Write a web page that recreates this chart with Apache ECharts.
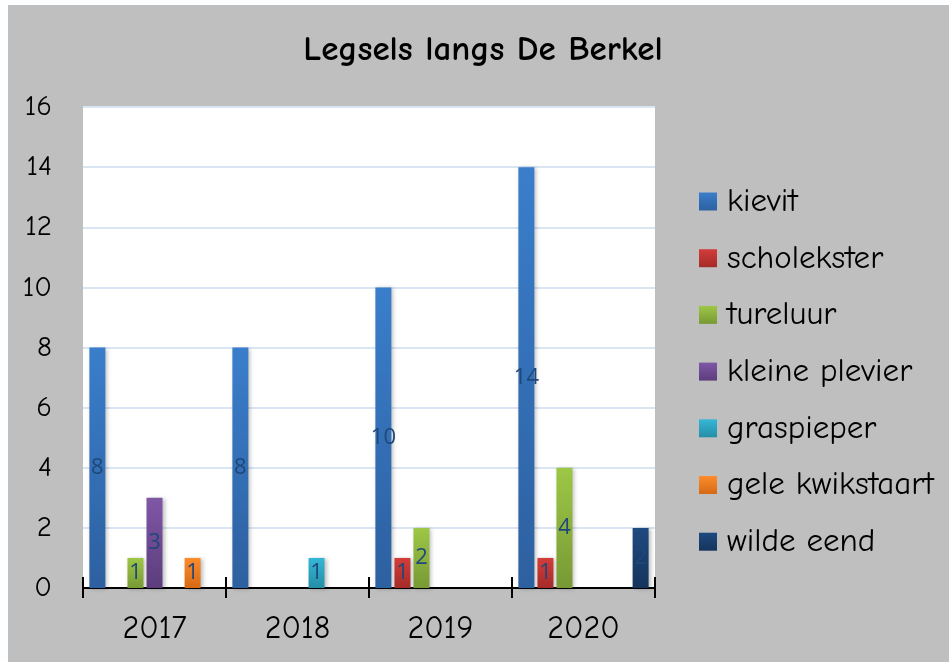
<!DOCTYPE html>
<html>
<head>
<meta charset="utf-8">
<script src="https://cdn.jsdelivr.net/npm/echarts@6/dist/echarts.min.js"></script>
<style>
html,body{margin:0;padding:0;background:#fdfeff;}
#c{width:949px;height:662px;}
</style>
</head>
<body>
<div id="c"></div>
<script>
const categories = ['2017', '2018', '2019', '2020'];
const seriesNames = ['kievit', 'scholekster', 'tureluur', 'kleine plevier', 'graspieper', 'gele kwikstaart', 'wilde eend'];
const kievit = [8, 8, 10, 14];
const scholekster = [null, null, 1, 1];
const tureluur = [1, null, 2, 4];
const kleinePlevier = [3, null, null, null];
const graspieper = [null, 1, null, null];
const geleKwikstaart = [1, null, null, null];
const wildeEend = [null, null, null, 2];
const yTicks = [0, 2, 4, 6, 8, 10, 12, 14, 16];

const values = [kievit, scholekster, tureluur, kleinePlevier, graspieper, geleKwikstaart, wildeEend];
const colors = [
  ['#3a7ecb', '#2d60a0'],
  ['#d33d3a', '#a42b29'],
  ['#9dc746', '#789935'],
  ['#7f57a6', '#5c3d7c'],
  ['#36b6d6', '#248ea7'],
  ['#fd8c2c', '#d56914'],
  ['#1f4a80', '#15345b']
];
const comic = "'Comic Sans MS', 'Comic Neue', 'DejaVu Sans', sans-serif";

const chart = echarts.init(document.getElementById('c'), null, {renderer: 'canvas'});
const series = seriesNames.map((n, i) => ({
  name: n,
  type: 'bar',
  barWidth: 16,
  barGap: '19%',
  data: values[i],
  itemStyle: {
    color: new echarts.graphic.LinearGradient(0, 0, 0, 1, [
      {offset: 0, color: colors[i][0]},
      {offset: 1, color: colors[i][1]}
    ]),
    shadowColor: 'rgba(0,0,0,0.25)',
    shadowBlur: 4,
    shadowOffsetX: 2,
    shadowOffsetY: 1
  },
  label: {
    show: true,
    position: 'inside',
    color: '#1f477a',
    fontSize: 22,
    fontFamily: "'Open Sans', 'Liberation Sans', sans-serif"
  }
}));

chart.setOption({
  backgroundColor: '#fdfeff',
  animation: false,
  graphic: [{
    type: 'rect', left: 8, top: 5, z: -10,
    shape: {width: 941, height: 657},
    style: {fill: '#bfbfbf'}
  }],
  title: {
    text: 'Legsels langs De Berkel',
    left: 478, top: 28, textAlign: 'center',
    textStyle: {fontFamily: comic, fontSize: 35, fontWeight: 'bold', color: '#000'}
  },
  legend: {
    data: seriesNames,
    orient: 'vertical',
    left: 694, top: 180,
    itemWidth: 18, itemHeight: 18, itemGap: 23.7,
    icon: 'rect',
    textStyle: {fontFamily: comic, fontSize: 33, lineHeight: 33, color: '#000', padding: [0, 0, 0, 5]}
  },
  grid: {
    left: 83, right: 294, top: 107, bottom: 74,
    show: true, backgroundColor: '#ffffff', borderWidth: 0
  },
  xAxis: [{
    type: 'category',
    data: categories,
    axisLine: {lineStyle: {color: '#000', width: 2}},
    axisTick: {show: true, length: 10, lineStyle: {color: '#000', width: 2}},
    axisLabel: {fontFamily: comic, fontSize: 32, color: '#000', margin: 25}
  }, {
    type: 'category',
    data: categories,
    position: 'bottom',
    axisLine: {show: false},
    axisTick: {show: true, inside: true, length: 11, lineStyle: {color: '#000', width: 2}},
    axisLabel: {show: false}
  }],
  yAxis: {
    type: 'value',
    min: 0, max: 16, interval: 2,
    axisLine: {show: false},
    axisTick: {show: false},
    splitLine: {lineStyle: {color: '#dae5f3', width: 2}},
    axisLabel: {fontFamily: comic, fontSize: 29, color: '#000', margin: 31,
      formatter: v => yTicks.includes(v) ? String(v) : ''}
  },
  series: series
});
</script>
</body>
</html>
